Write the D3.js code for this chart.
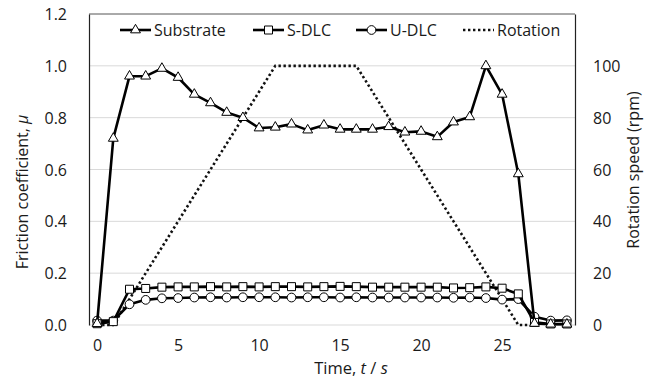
<!DOCTYPE html>
<html>
<head>
<meta charset="utf-8">
<script src="https://cdn.jsdelivr.net/npm/d3@7"></script>
<style>
  body { margin: 0; background: #fff; }
  text { font-family: "Open Sans", sans-serif; fill: #1a1a1a; }
</style>
</head>
<body>
<div id="chart"></div>
<script>
// time (s)
const time = d3.range(0, 30);
const substrate = [0.005, 0.72, 0.96, 0.96, 0.99, 0.955, 0.89, 0.857, 0.82, 0.80,
  0.76, 0.763, 0.775, 0.752, 0.771, 0.755, 0.755, 0.755, 0.765, 0.744,
  0.747, 0.726, 0.783, 0.803, 1.0, 0.89, 0.583, 0.006, 0.003, 0.003];
const sDlc = [0.005, 0.013, 0.138, 0.141, 0.146, 0.147, 0.147, 0.148, 0.147, 0.148,
  0.147, 0.148, 0.148, 0.147, 0.148, 0.149, 0.148, 0.146, 0.146, 0.146,
  0.146, 0.146, 0.143, 0.144, 0.147, 0.142, 0.12, 0.01, 0.004, 0.004];
const uDlc = [0.017, 0.017, 0.08, 0.097, 0.103, 0.104, 0.106, 0.107, 0.106, 0.107,
  0.107, 0.107, 0.106, 0.107, 0.107, 0.106, 0.107, 0.106, 0.106, 0.106,
  0.106, 0.106, 0.105, 0.106, 0.104, 0.098, 0.1, 0.032, 0.017, 0.018];
// rotation speed (rpm), t = 0..27
const rotTime = d3.range(0, 28);
const rotation = [0, 0, 10, 20, 30, 40, 50, 60, 70, 80, 90, 100, 100, 100, 100, 100, 100,
  90, 80, 70, 60, 50, 40, 30, 20, 10, 0, 0];

const leftTicks = [0, 0.2, 0.4, 0.6, 0.8, 1.0, 1.2];
const rightTicks = [0, 20, 40, 60, 80, 100];
const xTicks = [0, 5, 10, 15, 20, 25];

const W = 653, H = 378;
const svg = d3.select('#chart').append('svg')
  .attr('width', W).attr('height', H);

const x = d3.scaleLinear().domain([-0.5, 29.5]).range([89, 575]);
const y = d3.scaleLinear().domain([0, 1.2]).range([325, 14]);
const y2 = d3.scaleLinear().domain([0, 120]).range([325, 14]);

// gridlines
svg.append('g').selectAll('line')
  .data(leftTicks.filter(d => d < 1.2))
  .join('line')
  .attr('x1', x.range()[0]).attr('x2', x.range()[1])
  .attr('y1', d => y(d)).attr('y2', d => y(d))
  .attr('stroke', '#d9d9d9').attr('stroke-width', 1);

// top border
svg.append('line')
  .attr('x1', x.range()[0]).attr('x2', x.range()[1])
  .attr('y1', y(1.2)).attr('y2', y(1.2))
  .attr('stroke', '#555').attr('stroke-width', 1);

// left axis
const gl = svg.append('g')
  .attr('transform', `translate(${x.range()[0]},0)`)
  .call(d3.axisLeft(y).tickValues(leftTicks).tickFormat(d3.format('.1f'))
    .tickSizeInner(0).tickSizeOuter(0).tickPadding(22));
gl.select('.domain').attr('stroke', '#222').attr('stroke-width', 1.2);
gl.selectAll('text').style('font-size', '16px').attr('dy', '0.35em');

// right axis
const gr = svg.append('g')
  .attr('transform', `translate(${x.range()[1]},0)`)
  .call(d3.axisRight(y2).tickValues(rightTicks)
    .tickSizeInner(0).tickSizeOuter(0).tickPadding(18));
gr.select('.domain').attr('stroke', '#222').attr('stroke-width', 1.2);
gr.selectAll('text').style('font-size', '16px').attr('dy', '0.35em');

// bottom axis (labels only)
const gb = svg.append('g')
  .attr('transform', `translate(0,${y(0)})`)
  .call(d3.axisBottom(x).tickValues(xTicks).tickSize(0).tickPadding(15));
gb.select('.domain').remove();
gb.selectAll('text').style('font-size', '16px');

// axis titles
svg.append('text')
  .attr('transform', 'translate(28,192) rotate(-90)')
  .attr('text-anchor', 'middle').style('font-size', '16px')
  .html('Friction coefficient, <tspan font-style="italic">μ</tspan>');
svg.append('text')
  .attr('transform', 'translate(639,170) rotate(-90)')
  .attr('text-anchor', 'middle').style('font-size', '16px')
  .text('Rotation speed (rpm)');
svg.append('text')
  .attr('x', 351).attr('y', 374)
  .attr('text-anchor', 'middle').style('font-size', '16.5px')
  .html('Time, <tspan font-style="italic">t</tspan> / <tspan font-style="italic">s</tspan>');

// rotation (secondary axis)
svg.append('path')
  .datum(rotTime.map((t, i) => [t, rotation[i]]))
  .attr('fill', 'none').attr('stroke', '#111')
  .attr('stroke-width', 2.6).attr('stroke-dasharray', '2.4,2.6')
  .attr('d', d3.line().x(d => x(d[0])).y(d => y2(d[1])));

const series = [
  { name: 'U-DLC', values: uDlc, symbol: d3.symbolCircle, size: 60 },
  { name: 'S-DLC', values: sDlc, symbol: d3.symbolSquare, size: 64 },
  { name: 'Substrate', values: substrate, symbol: d3.symbolTriangle, size: 42 }
];

const line = d3.line().x(d => x(d[0])).y(d => y(d[1]));

series.forEach(s => {
  const pts = time.map((t, i) => [t, s.values[i]]);
  svg.append('path')
    .datum(pts)
    .attr('fill', 'none').attr('stroke', '#000')
    .attr('stroke-width', 2.6).attr('stroke-linejoin', 'round')
    .attr('d', line);
  svg.append('g').selectAll('path')
    .data(pts)
    .join('path')
    .attr('transform', d => `translate(${x(d[0])},${y(d[1])})`)
    .attr('d', d3.symbol(s.symbol, s.size))
    .attr('fill', '#fff').attr('stroke', '#000').attr('stroke-width', 1);
});

// legend
const legendItems = [
  { name: 'Substrate', symbol: d3.symbolTriangle, size: 42, x0: 120 },
  { name: 'S-DLC', symbol: d3.symbolSquare, size: 64, x0: 253 },
  { name: 'U-DLC', symbol: d3.symbolCircle, size: 60, x0: 356 },
  { name: 'Rotation', symbol: null, x0: 463 }
];
const lg = svg.append('g').attr('transform', 'translate(0,30)');
legendItems.forEach(it => {
  const g = lg.append('g').attr('transform', `translate(${it.x0},0)`);
  if (it.symbol) {
    g.append('line').attr('x1', 0).attr('x2', 31).attr('y1', 0).attr('y2', 0)
      .attr('stroke', '#000').attr('stroke-width', 2.6);
    g.append('path').attr('transform', 'translate(15.5,0)')
      .attr('d', d3.symbol(it.symbol, it.size))
      .attr('fill', '#fff').attr('stroke', '#000').attr('stroke-width', 1);
  } else {
    g.append('line').attr('x1', 0).attr('x2', 31).attr('y1', 0).attr('y2', 0)
      .attr('stroke', '#111').attr('stroke-width', 2.6).attr('stroke-dasharray', '2.4,2.6');
  }
  g.append('text').attr('x', 34).attr('y', 0).attr('dy', '0.35em')
    .style('font-size', '16px').text(it.name);
});
</script>
</body>
</html>
